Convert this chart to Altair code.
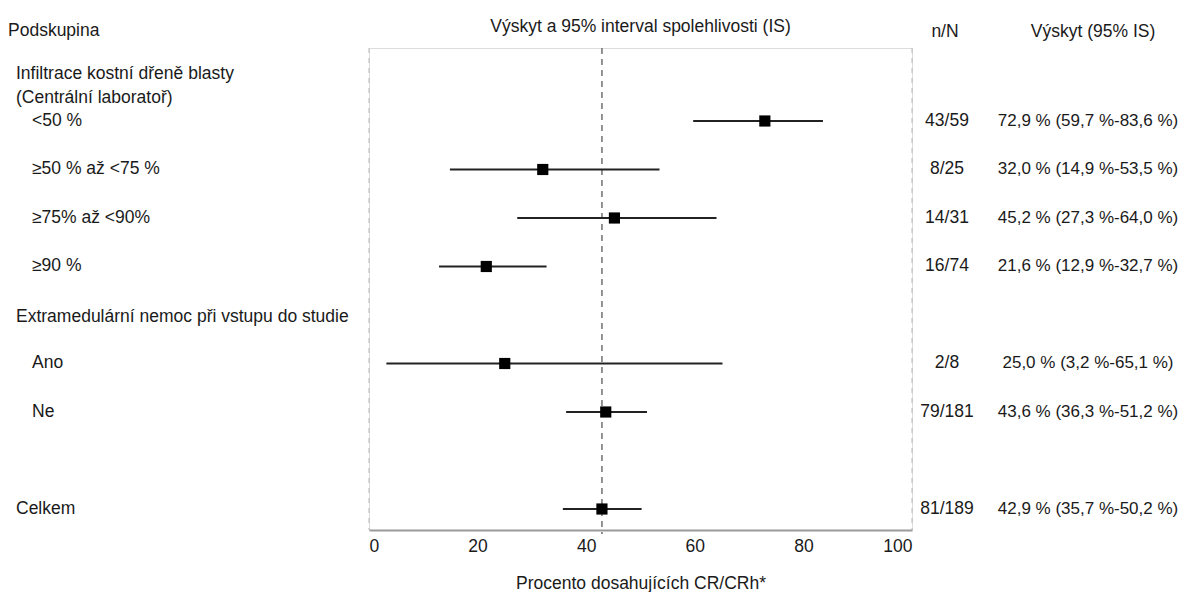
import altair as alt
import pandas as pd

# ---- data ----
subgroups = ["<50 %", "≥50 % až <75 %", "≥75% až <90%", "≥90 %", "Ano", "Ne", "Celkem"]
row_index = [1, 2, 3, 4, 6, 7, 9]
is_total = [False, False, False, False, False, False, True]
n_over_N = ["43/59", "8/25", "14/31", "16/74", "2/8", "79/181", "81/189"]
rate = [72.9, 32.0, 45.2, 21.6, 25.0, 43.6, 42.9]
lower = [59.7, 14.9, 27.3, 12.9, 3.2, 36.3, 35.7]
upper = [83.6, 53.5, 64.0, 32.7, 65.1, 51.2, 50.2]

group_headers = ["Infiltrace kostní dřeně blasty\n(Centrální laboratoř)",
                 "Extramedulární nemoc při vstupu do studie"]
group_rows = [0, 5]

x_ticks = [0, 20, 40, 60, 80, 100]
frame_x = [0, 100]

FONT = "Liberation Sans"
FS = 17.5
TXT = "#1a1a1a"
W, H = 543, 482

df = pd.DataFrame({
    "label": subgroups,
    "row": row_index,
    "total": is_total,
    "nN": n_over_N,
    "rate": rate,
    "lower": lower,
    "upper": upper,
})
df["ci_text"] = [
    (f"{r:.1f} % ({l:.1f} %-{u:.1f} %)").replace(".", ",")
    for r, l, u in zip(rate, lower, upper)
]
gdf = pd.DataFrame({"label": group_headers, "row": group_rows})

yscale = alt.Scale(domain=[-0.505, 9.433], reverse=True, nice=False, zero=False)
xscale = alt.Scale(domain=[0, 100], nice=False, zero=False)
xaxis = alt.Axis(values=x_ticks, title="Procento dosahujících CR/CRh*", grid=False,
                 ticks=False, labelFlush=True, labelFontSize=FS, labelFont=FONT,
                 labelColor=TXT, labelPadding=7, titleFontSize=FS, titleFont=FONT,
                 titleFontWeight="normal", titleColor=TXT, titlePadding=20,
                 domainColor="#9a9a9a", domainWidth=2)
Y = alt.Y("row:Q", scale=yscale, axis=None)

base = alt.Chart(df)

frame = alt.Chart(pd.DataFrame({"v": frame_x})).mark_rule(
    color="#b8b8b8", strokeDash=[5, 5], strokeWidth=1
).encode(x=alt.X("v:Q", scale=xscale, axis=xaxis), y=alt.value(0), y2=alt.value(H))

ref = alt.Chart(pd.DataFrame({"v": [rate[-1]]})).mark_rule(
    color="#707070", strokeDash=[6, 5], strokeWidth=1.5
).encode(x=alt.X("v:Q", scale=xscale, axis=xaxis), y=alt.value(0), y2=alt.value(H + 4))

ci = base.mark_rule(color="#222222", strokeWidth=2).encode(
    x=alt.X("lower:Q", scale=xscale, axis=xaxis), x2="upper:Q", y=Y
)
pts = base.mark_square(size=125, color="black", opacity=1).encode(
    x=alt.X("rate:Q", scale=xscale, axis=xaxis), y=Y
)

txt_kw = dict(font=FONT, fontSize=FS, color=TXT, baseline="middle")

sub_labels = base.transform_filter("!datum.total").mark_text(align="left", **txt_kw).encode(
    x=alt.value(-337), y=Y, text="label:N"
)
total_label = base.transform_filter("datum.total").mark_text(align="left", **txt_kw).encode(
    x=alt.value(-353), y=Y, text="label:N"
)
grp_labels = alt.Chart(gdf).mark_text(
    align="left", baseline="top", dy=-7, lineBreak="\n", lineHeight=24,
    font=FONT, fontSize=FS, color=TXT
).encode(x=alt.value(-353), y=Y, text="label:N")

nN_col = base.mark_text(align="center", **txt_kw).encode(
    x=alt.value(578), y=Y, text="nN:N"
)
ci_col = base.mark_text(align="center", font=FONT, fontSize=17, color=TXT,
                        baseline="middle").encode(
    x=alt.value(719), y=Y, text="ci_text:N"
)

def header(text, x, y, align):
    return alt.Chart(pd.DataFrame({"t": [text]})).mark_text(
        align=align, **txt_kw
    ).encode(x=alt.value(x), y=alt.value(y), text="t:N")

headers = (
    header("Podskupina", -361, -17, "left")
    + header("Výskyt a 95% interval spolehlivosti (IS)", W / 2, -21, "center")
    + header("n/N", 576, -16, "center")
    + header("Výskyt (95% IS)", 724, -16, "center")
)

chart = alt.layer(
    frame, ref, ci, pts, sub_labels, total_label, grp_labels, nN_col, ci_col, headers
).properties(
    width=W, height=H,
    padding={"left": 361, "top": 40, "right": 270, "bottom": 62},
    autosize=alt.AutoSizeParams(type="none"),
).configure_view(stroke=None).configure(background="white")

chart.save("out.html", embed_options={"renderer": "svg", "actions": False})
